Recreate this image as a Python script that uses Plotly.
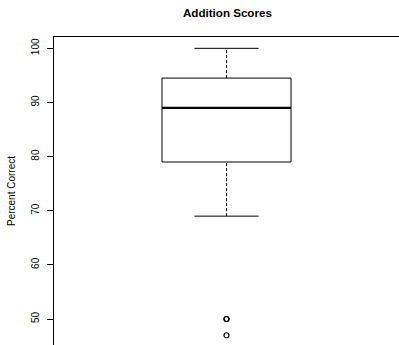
import plotly.graph_objects as go

# Data
box_stats = {"lower": 69, "q1": 79, "median": 89, "q3": 94.5, "upper": 100}
outliers = [50, 50, 47]
y_ticks = [50, 60, 70, 80, 90, 100]

# Style / layout constants
CX = 0.5        # box center on x scale [0, 1]
HALF_W = 0.187  # half box width
CAP_W = 0.093   # half cap width
FONT = "Liberation Sans, Arial, Helvetica, sans-serif"

q1, med, q3 = box_stats["q1"], box_stats["median"], box_stats["q3"]
lo, hi = box_stats["lower"], box_stats["upper"]

fig = go.Figure()
line_black = dict(color="black", width=1)

# box rectangle
fig.add_trace(go.Scatter(
    x=[CX - HALF_W, CX + HALF_W, CX + HALF_W, CX - HALF_W, CX - HALF_W],
    y=[q1, q1, q3, q3, q1], mode="lines", line=line_black, hoverinfo="skip"))
# median
fig.add_trace(go.Scatter(x=[CX - HALF_W, CX + HALF_W], y=[med, med], mode="lines",
                         line=dict(color="black", width=2.2), hoverinfo="skip"))
# whiskers (dashed)
fig.add_trace(go.Scatter(x=[CX, CX], y=[q3, hi], mode="lines",
                         line=dict(color="black", width=1, dash="3px,2px"), hoverinfo="skip"))
fig.add_trace(go.Scatter(x=[CX, CX], y=[lo, q1], mode="lines",
                         line=dict(color="black", width=1, dash="3px,2px"), hoverinfo="skip"))
# caps
fig.add_trace(go.Scatter(x=[CX - CAP_W, CX + CAP_W], y=[hi, hi], mode="lines",
                         line=line_black, hoverinfo="skip"))
fig.add_trace(go.Scatter(x=[CX - CAP_W, CX + CAP_W], y=[lo, lo], mode="lines",
                         line=line_black, hoverinfo="skip"))
# outliers
fig.add_trace(go.Scatter(x=[CX] * len(outliers), y=outliers, mode="markers",
                         marker=dict(symbol="circle-open", size=5, color="black",
                                     line=dict(width=1.2, color="black")),
                         hoverinfo="skip"))

fig.update_layout(
    width=399, height=345,
    margin=dict(l=54, r=0, t=37, b=0, pad=0),
    paper_bgcolor="white", plot_bgcolor="white",
    showlegend=False,
    font=dict(family=FONT, size=10, color="black"),
    title=dict(text="Addition Scores", x=0.57, xanchor="center",
               y=1 - 12.5 / 345, yanchor="middle",
               font=dict(family=FONT, size=11.6, color="black", weight="bold")),
    xaxis=dict(range=[0, 1], side="top", showline=True, linecolor="black", linewidth=1,
               showticklabels=False, ticks="", showgrid=False, zeroline=False,
               fixedrange=True),
    yaxis=dict(range=[45.2, 102.09], showline=True, linecolor="black", linewidth=1,
               ticks="outside", ticklen=6, tickcolor="black", tickwidth=1,
               tickvals=y_ticks, ticktext=[str(v) for v in y_ticks], tickangle=-90,
               ticklabelstandoff=4,
               tickfont=dict(family=FONT, size=10, color="black"),
               showgrid=False, zeroline=False,
               title=dict(text="Percent Correct", standoff=12,
                          font=dict(family=FONT, size=10, color="black"))),
)

fig.write_html("out.html")
